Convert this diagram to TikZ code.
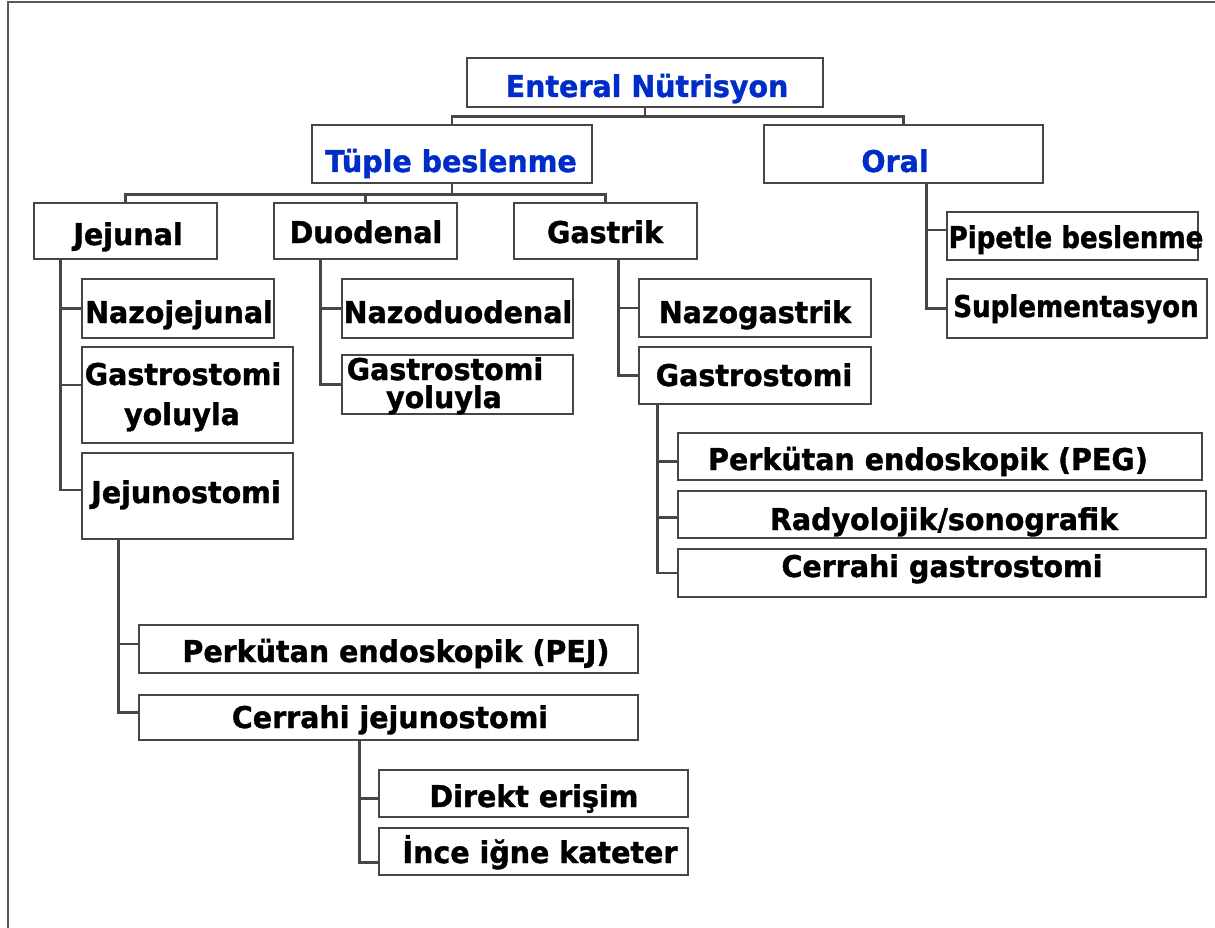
\documentclass[tikz,border=0pt]{standalone}
\usepackage{fontspec}
\newfontfamily\bft[FakeStretch=0.95,FakeBold=1.2]{DejaVu Sans}
\newfontfamily\nft[FakeStretch=0.87,FakeBold=1.2]{DejaVu Sans}
\definecolor{tblue}{RGB}{0,45,200}
\definecolor{linec}{RGB}{70,70,70}
\definecolor{framec}{RGB}{90,90,90}
\tikzset{
  boxst/.style={draw=linec, line width=2.6pt, rectangle, inner sep=0pt, fill=white},
  conn/.style={draw=linec, line width=2.6pt},
  framest/.style={draw=framec, line width=2.6pt},
  txt/.style={anchor=base, inner sep=0pt, font=\bft\bfseries\fontsize{30}{36}\selectfont},
  ttl/.style={txt, text=tblue},
  ntxt/.style={anchor=base, inner sep=0pt, font=\nft\bfseries\fontsize{30}{36}\selectfont},
}
\newcommand\mkbox[5]{\node[boxst, minimum width={(#4-#2)*1pt}, minimum height={(#5-#3)*1pt}] (#1) at ({(#2+#4)/2},{(#3+#5)/2}) {};}
\begin{document}
\begin{tikzpicture}[x=1pt,y=-1pt]
\useasboundingbox (0,0) rectangle (1215,928);
% frame
\coordinate (f1) at (8,930);
\coordinate (f2) at (8,2);
\coordinate (f3) at (1216,2);
\draw[framest] (f1) -- (f2) -- (f3);
% boxes
\mkbox{ent}{467}{58}{823}{107}
\mkbox{tup}{312}{125}{592}{183}
\mkbox{oral}{764}{125}{1043}{183}
\mkbox{jej}{34}{203}{217}{259}
\mkbox{duo}{274}{203}{457}{259}
\mkbox{gas}{514}{203}{697}{259}
\mkbox{nazj}{82}{279}{274}{338}
\mkbox{gasj}{82}{347}{293}{443}
\mkbox{jejo}{82}{453}{293}{539}
\mkbox{pej}{139}{625}{638}{673}
\mkbox{cerj}{139}{695}{638}{740}
\mkbox{dir}{379}{770}{688}{817}
\mkbox{ince}{379}{828}{688}{875}
\mkbox{nazd}{342}{279}{573}{338}
\mkbox{gasd}{342}{355}{573}{414}
\mkbox{nazg}{639}{279}{871}{337}
\mkbox{gasg}{639}{347}{871}{404}
\mkbox{peg}{678}{433}{1202}{480}
\mkbox{rad}{678}{491}{1206}{538}
\mkbox{cerg}{678}{549}{1206}{597}
\mkbox{pip}{947}{212}{1198}{260}
\mkbox{sup}{947}{279}{1207}{338}
% connectors
\draw[conn] (ent.south) -- ++(0,8) -| (tup.north);
\draw[conn] (ent.south) -- ++(0,8) -| (oral.north);
\draw[conn] (tup.south) -- ++(0,10) -| (jej.north);
\draw[conn] (tup.south) -- ++(0,10) -| (duo.north);
\draw[conn] (tup.south) -- ++(0,10) -| (gas.north);
\draw[conn] ([xshift=28pt]jej.south west) |- (nazj.west);
\draw[conn] ([xshift=28pt]jej.south west) |- ([yshift=10pt]gasj.west);
\draw[conn] ([xshift=28pt]jej.south west) |- ([yshift=6pt]jejo.west);
\draw[conn] ([xshift=38pt]jejo.south west) |- ([yshift=5pt]pej.west);
\draw[conn] ([xshift=38pt]jejo.south west) |- ([yshift=5pt]cerj.west);
\draw[conn] ([xshift=222pt]cerj.south west) |- ([yshift=-5pt]dir.west);
\draw[conn] ([xshift=222pt]cerj.south west) |- ([yshift=-11pt]ince.west);
\draw[conn] ([xshift=48pt]duo.south west) |- (nazd.west);
\draw[conn] ([xshift=48pt]duo.south west) |- (gasd.west);
\draw[conn] ([xshift=106pt]gas.south west) |- (nazg.west);
\draw[conn] ([xshift=106pt]gas.south west) |- (gasg.west);
\draw[conn] ([xshift=20pt]gasg.south west) |- ([yshift=-5pt]peg.west);
\draw[conn] ([xshift=20pt]gasg.south west) |- ([yshift=-3pt]rad.west);
\draw[conn] ([xshift=20pt]gasg.south west) |- (cerg.west);
\draw[conn] ([xshift=164pt]oral.south west) |- ([yshift=6pt]pip.west);
\draw[conn] ([xshift=164pt]oral.south west) |- (sup.west);
% texts
\node[ttl] (ent-t) at (647,97) {Enteral Nütrisyon};
\node[ttl] (tup-t) at (451,172) {Tüple beslenme};
\node[ttl] (oral-t) at (895,172) {Oral};
\node[txt] (jej-t) at (128,245) {Jejunal};
\node[txt] (duo-t) at (366,243) {Duodenal};
\node[txt] (gas-t) at (605,243) {Gastrik};
\node[txt] (nazj-t) at (179,323) {Nazojejunal};
\node[txt] (gasj-t1) at (183,385) {Gastrostomi};
\node[txt] (gasj-t2) at (182,425) {yoluyla};
\node[txt] (jejo-t) at (186,503) {Jejunostomi};
\node[txt] (pej-t) at (396,662) {Perkütan endoskopik (PEJ)};
\node[txt] (cerj-t) at (390,728) {Cerrahi jejunostomi};
\node[txt] (dir-t) at (534,807) {Direkt erişim};
\node[txt] (ince-t) at (540,863) {İnce iğne kateter};
\node[txt] (nazd-t) at (458,323) {Nazoduodenal};
\node[txt] (gasd-t1) at (445,380) {Gastrostomi};
\node[txt] (gasd-t2) at (444,408) {yoluyla};
\node[txt] (nazg-t) at (755,323) {Nazogastrik};
\node[txt] (gasg-t) at (754,386) {Gastrostomi};
\node[txt] (peg-t) at (928,470) {Perkütan endoskopik (PEG)};
\node[txt] (rad-t) at (944,530) {Radyolojik/sonografik};
\node[txt] (cerg-t) at (942,577) {Cerrahi gastrostomi};
\node[ntxt] (pip-t) at (1076,248) {Pipetle beslenme};
\node[ntxt] (sup-t) at (1076,317) {Suplementasyon};
\end{tikzpicture}
\end{document}
